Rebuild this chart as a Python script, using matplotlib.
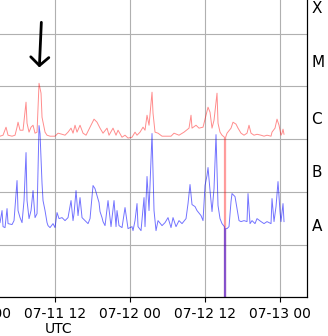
import numpy as np
import pandas as pd
import matplotlib
matplotlib.use('Agg')
import matplotlib.pyplot as plt
import matplotlib.dates as mdates
from matplotlib.ticker import NullLocator

# GOES X-ray flux
# time in hours since 07-11 00 UTC
t0 = pd.Timestamp('2024-07-11 00:00')

long_hours = [2.72, 3.2, 3.68, 4.16, 4.48, 5.12, 5.6, 5.92, 6.08, 6.4, 6.88, 7.36, 7.52,
              7.84, 8.16, 8.48, 8.8, 9.12, 9.44, 9.76, 9.92, 10.4, 10.72, 11.2, 12.0,
              12.48, 13.12, 13.6, 14.08, 14.56, 14.88, 15.2, 15.52, 16.0, 16.48, 16.96,
              17.6, 18.24, 18.72, 19.2, 19.68, 20.32, 20.64, 21.28, 21.76, 22.08, 22.72,
              23.2, 23.68, 24.32, 24.8, 25.12, 25.6, 26.08, 26.4, 26.72, 27.04, 27.52,
              27.68, 28.0, 28.48, 29.12, 29.92, 30.56, 31.04, 31.84, 32.64, 33.44, 33.76,
              33.92, 34.56, 35.04, 35.68, 36.16, 36.48, 36.8, 37.12, 37.44, 37.92, 38.08,
              38.4, 38.72, 39.1, 39.2, 39.3, 39.52, 40.16, 40.48, 40.96, 41.28, 41.76,
              42.24, 42.72, 43.04, 43.36, 43.84, 44.32, 44.96, 45.44, 45.92, 46.56, 46.72,
              47.2, 47.52, 47.84, 48.16, 48.32, 48.48, 48.64]
# 0.1-0.8 nm channel, in 1e-6 W/m^2 (0 = data dropout)
long_flux = [1.19, 1.14, 1.19, 1.69, 1.19, 1.14, 1.19, 1.69, 2.10, 1.48, 1.48, 5.04, 2.01,
             1.36, 1.69, 1.84, 1.30, 1.36, 11.5, 7.46, 2.61, 1.36, 1.19, 1.14, 1.14,
             1.30, 1.24, 1.19, 1.36, 1.62, 1.30, 1.84, 1.36, 1.84, 1.30, 1.19,
             1.69, 2.40, 2.10, 1.62, 1.30, 1.62, 1.19, 1.62, 1.19, 1.48, 1.09,
             1.19, 1.05, 1.09, 1.36, 1.19, 1.36, 1.69, 1.48, 2.85, 1.84, 7.79,
             3.11, 1.36, 1.30, 1.14, 1.14, 1.14, 1.30, 1.19, 1.36, 1.62, 2.85,
             1.62, 1.84, 1.62, 1.69, 2.85, 4.05, 3.25, 1.62, 2.29, 7.46, 2.01,
             1.36, 1.19, 1.09, 0.0, 1.09, 1.30, 1.62, 2.10, 1.93, 1.62, 1.30,
             1.19, 1.30, 1.84, 1.30, 1.19, 1.24, 1.19, 1.14, 1.19, 1.14, 1.36,
             1.62, 2.40, 1.84, 1.19, 1.30, 1.55, 1.24]

short_hours = [2.72, 3.2, 3.52, 3.68, 4.0, 4.32, 4.48, 5.12, 5.44, 5.92, 6.08, 6.4, 6.72,
               7.04, 7.36, 7.52, 7.84, 8.16, 8.48, 8.8, 9.12, 9.44, 9.6, 9.92, 10.08,
               10.4, 10.72, 10.88, 11.2, 11.68, 12.0, 12.32, 12.64, 13.12, 13.6, 14.08,
               14.56, 14.88, 15.04, 15.36, 15.68, 16.0, 16.32, 16.8, 17.28, 17.6, 18.08,
               18.4, 18.72, 19.04, 19.2, 19.52, 19.68, 20.0, 20.48, 20.96, 21.44, 21.76,
               21.92, 22.24, 22.72, 23.2, 23.68, 24.32, 24.48, 24.8, 25.12, 25.28, 25.76,
               26.24, 26.4, 26.72, 27.04, 27.52, 27.68, 27.84, 28.16, 28.48, 29.12, 29.6,
               30.08, 30.56, 30.88, 31.36, 31.84, 32.32, 32.96, 33.28, 33.6, 33.92, 34.4,
               34.72, 35.36, 35.68, 36.0, 36.32, 36.48, 36.8, 37.12, 37.44, 37.76, 38.08,
               38.4, 38.72, 39.1, 39.2, 39.3, 39.52, 39.84, 40.16, 40.32, 40.8, 41.12,
               41.44, 41.76, 42.24, 42.72, 42.88, 43.2, 43.52, 44.0, 44.32, 44.96, 45.44,
               45.92, 46.56, 46.72, 47.04, 47.36, 47.68, 48.0, 48.16, 48.48, 48.64]
# 0.05-0.4 nm channel, in 1e-8 W/m^2 (0 = data dropout)
short_flux = [2.61, 2.61, 4.42, 2.19, 2.10, 4.82, 2.50, 2.40, 2.85, 16.4, 4.42, 3.25, 2.61,
              6.84, 55.7, 6.84, 3.11, 4.42, 10.6, 3.25, 3.87, 181, 128, 14.4, 6.84,
              4.42, 2.61, 2.29, 2.10, 2.50, 2.10, 4.05, 3.11, 3.25, 2.85, 3.25,
              6.84, 2.85, 3.87, 10.6, 3.55, 7.79, 3.25, 2.85, 2.50, 3.11, 13.2,
              11.5, 8.50, 6.27, 4.23, 3.25, 2.73, 2.29, 6.84, 2.19, 6.84, 2.19,
              4.42, 2.29, 2.10, 5.04, 2.01, 2.19, 1.84, 2.85, 6.00, 2.19, 1.84,
              7.79, 2.19, 19.6, 4.42, 128, 25.3, 4.42, 1.84, 2.85, 2.29, 2.61,
              3.25, 2.10, 3.25, 2.19, 2.85, 2.50, 3.11, 6.00, 13.8, 5.74, 5.26,
              4.42, 3.55, 2.85, 13.2, 20.5, 29.0, 10.6, 4.23, 11.5, 122, 5.50,
              3.11, 2.50, 2.19, 0.0, 2.01, 2.01, 2.19, 6.55, 9.28, 8.14, 4.82,
              2.85, 2.73, 2.85, 2.73, 9.28, 2.50, 2.85, 2.50, 3.11, 2.73, 2.50,
              2.73, 2.50, 7.46, 2.73, 5.26, 15.7, 4.23, 2.73, 6.00, 2.73]

class_labels = ['A', 'B', 'C', 'M', 'X']
class_pos = [2.4e-8, 2.5e-7, 2.5e-6, 3.1e-5, 3.2e-4]

flare_hour = 9.44  # M-class peak marked by the arrow

t_long = t0 + pd.to_timedelta(long_hours, unit='h')
t_short = t0 + pd.to_timedelta(short_hours, unit='h')
f_long = np.array(long_flux) * 1e-6
f_short = np.array(short_flux) * 1e-8

fig = plt.figure(figsize=(3.28, 3.36), dpi=100)
ax = fig.add_axes([-0.5823, 0.1152, 1.5192, 0.9411])

ax.plot(t_long, f_long, color='red', lw=0.7, alpha=0.45)
ax.plot(t_short, f_short, color='blue', lw=0.7, alpha=0.55)

ax.set_yscale('log')
ax.set_ylim(1e-9, 1e-3)
ax.set_xlim(pd.Timestamp('2024-07-09 20:38'), pd.Timestamp('2024-07-13 04:22'))

ax.xaxis.set_major_locator(mdates.HourLocator(byhour=[0, 12]))
ax.xaxis.set_major_formatter(mdates.DateFormatter('%m-%d %H'))
ax.tick_params(axis='x', labelsize=10)
ax.set_xlabel('UTC', fontsize=10, labelpad=1)
ax.grid(True, which='major', color='#b0b0b0', lw=0.8)

# flare classes on the right
ax2 = ax.twinx()
ax2.set_yscale('log')
ax2.set_ylim(ax.get_ylim())
ax2.set_yticks(class_pos)
ax2.set_yticklabels(class_labels, fontsize=11)
ax2.yaxis.set_minor_locator(NullLocator())
ax2.tick_params(axis='y', length=0, pad=3)

# arrow pointing at the flare
tip = t0 + pd.Timedelta(hours=flare_hour + 0.05)
tail = t0 + pd.Timedelta(hours=flare_hour + 0.37)
ax.annotate('', xy=(tip, 2.3e-5), xytext=(tail, 1.65e-4),
            arrowprops=dict(arrowstyle='->,head_length=0.6,head_width=0.65',
                            lw=2, color='black', shrinkA=0, shrinkB=0))

plt.savefig('out.png', dpi=100)
